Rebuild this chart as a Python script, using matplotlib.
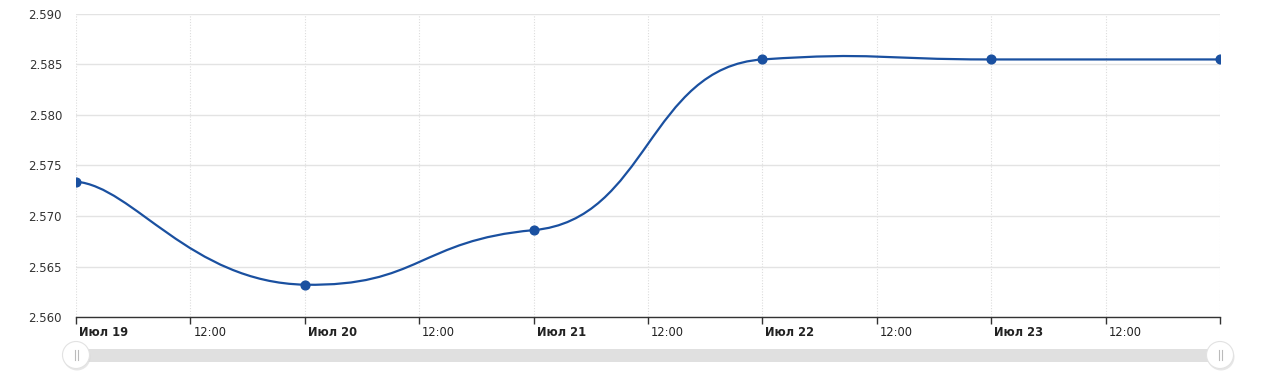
import matplotlib
matplotlib.use('Agg')
import matplotlib.pyplot as plt
import matplotlib.dates as mdates
import matplotlib.transforms as mtrans
from matplotlib.path import Path
from matplotlib.patches import PathPatch, Circle, Rectangle
import numpy as np

# data
dates = ['2019-07-19', '2019-07-20', '2019-07-21', '2019-07-22', '2019-07-23', '2019-07-24']
rates = [2.5734, 2.5632, 2.5686, 2.5855, 2.5855, 2.5855]
yticks = [2.560, 2.565, 2.570, 2.575, 2.580, 2.585, 2.590]
day_labels = ['Июл 19', 'Июл 20', 'Июл 21', 'Июл 22', 'Июл 23']
noon_label = '12:00'

LINE = '#1a50a0'
W, H = 1280, 389


def tension_path(xs, ys, kx=0.25, ky=0.045):
    # cardinal-type smoothing, separate strength along x and y
    n = len(xs)
    verts = [(xs[0], ys[0])]
    codes = [Path.MOVETO]
    for i in range(n - 1):
        i0 = max(i - 1, 0)
        i3 = min(i + 2, n - 1)
        ca = (xs[i] + (xs[i + 1] - xs[i0]) * kx, ys[i] + (ys[i + 1] - ys[i0]) * ky)
        cb = (xs[i + 1] - (xs[i3] - xs[i]) * kx, ys[i + 1] - (ys[i3] - ys[i]) * ky)
        verts += [ca, cb, (xs[i + 1], ys[i + 1])]
        codes += [Path.CURVE4] * 3
    return Path(verts, codes)


x = mdates.date2num(np.array(dates, dtype='datetime64[D]'))
y = np.array(rates)

fig = plt.figure(figsize=(W / 100, H / 100), dpi=100)
ax = fig.add_axes([76 / W, 1 - 317 / H, (1220 - 76) / W, (317 - 14) / H])

ax.add_patch(PathPatch(tension_path(list(x), list(y)), fill=False, ec=LINE, lw=1.6, zorder=3))
ax.plot(x, y, 'o', color=LINE, ms=6.3, zorder=4)

ax.set_xlim(x[0], x[-1])
ax.set_ylim(yticks[0], yticks[-1])

# y axis
ax.set_yticks(yticks)
ax.set_yticklabels(['%.3f' % v for v in yticks], fontsize=8.5, color='#333333')
ax.tick_params(axis='y', length=0, pad=10)
ax.grid(axis='y', color='#e3e3e3', lw=1, ls='-')

# x axis: ticks every 12 hours
xt = np.arange(x[0], x[-1] + 0.01, 0.5)
ax.set_xticks(xt)
labels = []
for i in range(len(xt) - 1):
    labels.append(day_labels[i // 2] if i % 2 == 0 else noon_label)
labels.append('')
ax.set_xticklabels(labels, fontsize=8.3, color='#222222')
ax.tick_params(axis='x', length=5, width=1, color='#333333', pad=1.5)
off = mtrans.ScaledTranslation(3 / 100, 0, fig.dpi_scale_trans)
for i, lab in enumerate(ax.get_xticklabels()):
    lab.set_horizontalalignment('left')
    lab.set_transform(lab.get_transform() + off)
    if i % 2 == 0:
        lab.set_fontweight('bold')
for xv in xt:
    ax.axvline(xv, color='#dcdcdc', lw=0.8, ls=(0, (1, 1.5)), zorder=0)

for s in ['top', 'right', 'left']:
    ax.spines[s].set_visible(False)
ax.spines['bottom'].set_color('#333333')
ax.spines['bottom'].set_linewidth(1)

# navigator scrollbar underneath
nav = fig.add_axes([0, 0, 1, 1], zorder=-1)
nav.set_xlim(0, W)
nav.set_ylim(H, 0)
nav.axis('off')
nav.add_patch(Rectangle((76, 349), 1220 - 76, 13, fc='#e0e0e0', ec='none'))
for cx in (76, 1220):
    nav.add_patch(Circle((cx + 1, 357), 13.5, fc='#d8d8d8', ec='none', alpha=0.6))
    nav.add_patch(Circle((cx, 355), 13.5, fc='white', ec='#e2e2e2', lw=0.8))
    nav.plot([cx - 1.5, cx - 1.5], [350, 360], color='#bbbbbb', lw=0.8)
    nav.plot([cx + 1.5, cx + 1.5], [350, 360], color='#bbbbbb', lw=0.8)

fig.savefig('out.png', dpi=100)
